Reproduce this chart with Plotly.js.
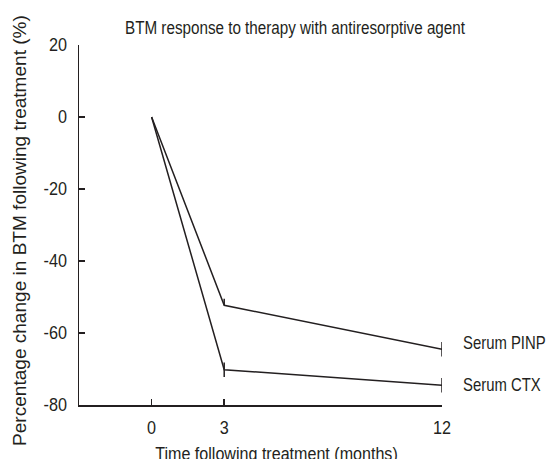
<!DOCTYPE html>
<html>
<head>
<meta charset="utf-8">
<script src="https://cdn.plot.ly/plotly-3.0.1.min.js"></script>
<style>html,body{margin:0;padding:0;background:#fff;}#chart{width:549px;height:459px;}</style>
</head>
<body>
<div id="chart"></div>
<script>
var months = [0, 3, 12];
var seriesNames = ["Serum PINP", "Serum CTX"];
var pinp = [0, -52.3, -64.5];
var pinpErrPlus = [0, 1.8, 2];
var pinpErrMinus = [0, 0, 2];
var ctx = [0, -70.2, -74.5];
var ctxErrPlus = [0, 2, 2];
var ctxErrMinus = [0, 2, 2];
var yTicks = [-80, -60, -40, -20, 0, 20];
var xTicks = [0, 3, 12];

var FONT = "'Liberation Sans', Arial, 'DejaVu Sans', sans-serif";
var INK = "#231f20";

function trace(y, ep, em, name) {
  return {
    x: months, y: y, name: name, type: "scatter", mode: "lines",
    line: {color: INK, width: 1.5},
    error_y: {type: "data", symmetric: false, array: ep, arrayminus: em,
              visible: true, width: 0, thickness: 1.5, color: INK},
    showlegend: false, hoverinfo: "skip"
  };
}

var data = [
  trace(pinp, pinpErrPlus, pinpErrMinus, seriesNames[0]),
  trace(ctx, ctxErrPlus, ctxErrMinus, seriesNames[1])
];

var annotations = [
  {text: seriesNames[0], xref: "x", yref: "y", x: 12, y: pinp[2], xanchor: "left", yanchor: "middle", xshift: 19, yshift: 6, showarrow: false, font: {family: FONT, size: 17.5, color: INK}},
  {text: seriesNames[1], xref: "x", yref: "y", x: 12, y: ctx[2], xanchor: "left", yanchor: "middle", xshift: 19, showarrow: false, font: {family: FONT, size: 17.5, color: INK}},
  {text: "Time following treatment (months)", xref: "paper", yref: "paper", x: 0.545, y: -0.136, xanchor: "center", yanchor: "middle", showarrow: false, font: {family: FONT, size: 18.5, color: INK}},
  {text: "Percentage change in BTM following treatment (%)", xref: "paper", yref: "paper", x: -0.166, y: 0.486, xanchor: "center", yanchor: "middle", textangle: -90, showarrow: false, font: {family: FONT, size: 18.5, color: INK}}
];

var layout = {
  width: 549, height: 459,
  margin: {l: 79, r: 107, t: 45, b: 54, pad: 0},
  paper_bgcolor: "#fff", plot_bgcolor: "#fff",
  font: {family: FONT, size: 17, color: INK},
  title: {text: "BTM response to therapy with antiresorptive agent", x: 295/549, xanchor: "center", xref: "container", y: 1 - 28/459, yanchor: "middle", yref: "container", font: {family: FONT, size: 17.5, color: INK}},
  xaxis: {range: [-3, 12], tickmode: "array", tickvals: xTicks, ticktext: xTicks.map(String),
          showgrid: false, zeroline: false, showline: true, linecolor: INK, linewidth: 1.5,
          ticks: "inside", ticklen: 6, tickwidth: 1.5, tickcolor: INK, ticklabelstandoff: 6,
          tickfont: {family: FONT, size: 18, color: INK}, fixedrange: true},
  yaxis: {range: [-80, 20], tickmode: "array", tickvals: yTicks, ticktext: yTicks.map(String),
          showgrid: false, zeroline: false, showline: true, linecolor: INK, linewidth: 1.5,
          ticks: "inside", ticklen: 6, tickwidth: 1.5, tickcolor: INK, ticklabelstandoff: 7,
          tickfont: {family: FONT, size: 18, color: INK}, fixedrange: true},
  annotations: annotations,
  showlegend: false
};

// horizontal condensing/stretching of the text to imitate the reference typeface
function squeeze(el, sx, mode) {
  var bb = el.getBBox();
  var px = mode === "left" ? bb.x : (mode === "right" ? bb.x + bb.width : bb.x + bb.width / 2);
  var t = el.getAttribute("transform") || "";
  el.setAttribute("transform", t + " translate(" + px + ",0) scale(" + sx + ",1) translate(" + (-px) + ",0)");
}

Plotly.newPlot("chart", data, layout, {displayModeBar: false, staticPlot: true}).then(function (gd) {
  gd.querySelectorAll(".gtitle").forEach(function (el) { squeeze(el, 0.87, "center"); });
  gd.querySelectorAll(".xtick text").forEach(function (el) { squeeze(el, 0.9, "center"); });
  gd.querySelectorAll(".ytick text").forEach(function (el) { squeeze(el, 0.9, "right"); });
  gd.querySelectorAll("g.annotation").forEach(function (g) {
    var idx = +g.getAttribute("data-index");
    var el = g.querySelector("text.annotation-text");
    if (!el) return;
    if (idx === 0 || idx === 1) squeeze(el, 0.85, "left");
    else if (idx === 2) squeeze(el, 0.87, "center");
    else if (idx === 3) squeeze(el, 1.03, "center");
  });
});
</script>
</body>
</html>
